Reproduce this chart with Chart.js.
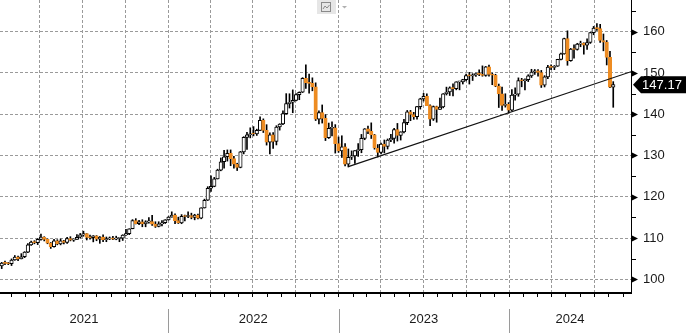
<!DOCTYPE html>
<html>
<head>
<meta charset="utf-8">
<script src="https://cdn.jsdelivr.net/npm/chart.js@4.4.1/dist/chart.umd.min.js"></script>
<style>
  html, body { margin: 0; padding: 0; background: #fff; }
  #wrap { width: 688px; height: 333px; }
</style>
</head>
<body>
<div id="wrap"><canvas id="chartKurs" width="688" height="333"></canvas></div>
<script>
// Weekly candles, one per week starting with the week ending 10 Jan 2021
const firstWeek = Date.UTC(2021, 0, 10);
const DAY = 86400000;

const open = [
  103.25,103.94,103.86,103.77,104.68,105.38,104.94,105.46,106.57,108.33,109.03,108.87,109.66,110.25,109.66,108.78,
  107.88,109.30,108.59,109.35,108.96,109.85,109.50,109.66,110.20,110.76,111.05,110.14,110.06,110.55,109.70,110.25,
  109.58,109.79,109.84,109.72,109.93,109.97,110.73,111.05,112.24,114.22,113.47,113.95,113.41,113.93,114.01,113.38,
  112.80,113.43,113.70,114.39,115.08,115.58,114.21,113.68,115.25,115.22,115.43,114.99,115.55,114.83,117.29,119.15,
  122.06,122.50,124.33,126.44,128.49,129.70,130.55,129.25,127.87,127.12,130.87,134.41,135.02,135.22,135.21,136.09,
  138.53,136.10,133.25,135.02,133.43,136.90,137.63,140.16,142.57,142.91,143.34,144.74,145.32,148.69,147.67,147.47,
  146.61,138.78,140.37,138.99,134.31,136.57,136.68,132.87,131.12,132.08,127.87,129.57,129.87,131.19,131.39,134.13,
  136.48,135.85,134.99,131.82,130.73,132.79,132.17,133.76,134.16,136.27,134.86,135.73,137.98,140.60,139.93,139.39,
  141.86,143.71,144.31,142.10,138.81,141.83,141.17,141.75,144.96,145.39,146.40,146.22,147.84,147.85,148.37,149.37,
  149.31,149.57,149.87,149.65,149.39,151.50,149.62,149.44,146.80,144.94,142.16,142.40,141.00,144.61,144.87,148.13,
  148.12,148.38,149.28,150.19,150.50,150.11,147.07,149.05,151.42,151.35,151.62,153.28,154.63,158.33,152.97,155.78,
  155.68,156.97,157.25,156.75,157.38,159.79,160.88,160.75,157.86,157.46,153.76,146.53
];
const high = [
  104.10,104.40,104.09,104.94,105.77,105.65,106.22,106.70,108.64,109.24,109.36,109.85,110.97,110.32,109.78,108.91,
  109.70,109.60,109.78,109.45,110.20,110.33,109.85,110.82,111.11,111.66,111.08,110.70,110.59,110.59,110.37,110.80,
  110.25,110.26,110.42,110.45,110.08,110.80,112.08,112.25,114.46,114.70,114.30,114.44,114.20,114.97,115.52,113.95,
  113.95,114.25,114.46,115.20,116.35,115.85,115.06,115.68,115.55,116.34,116.03,115.76,115.80,117.35,119.42,122.44,
  125.10,124.69,126.68,129.41,131.25,131.35,131.35,129.77,128.13,130.99,134.56,135.59,136.71,137.00,136.38,139.39,
  138.88,137.47,135.50,135.58,137.22,137.70,140.80,144.99,144.96,145.90,145.00,145.42,148.86,151.95,149.71,148.82,
  147.61,140.80,142.25,139.90,137.86,138.18,137.48,134.50,134.78,132.87,131.58,131.12,131.20,132.90,135.11,136.52,
  137.10,137.91,135.11,132.65,133.00,133.76,134.01,135.14,136.56,137.77,135.75,138.74,140.92,140.93,140.46,141.91,
  143.87,145.07,144.92,142.27,142.00,141.96,143.89,145.01,146.57,146.64,147.37,147.88,147.95,148.47,149.71,150.16,
  149.83,149.99,150.78,151.72,151.59,151.91,149.98,149.69,147.31,146.59,144.96,142.82,145.98,146.41,148.81,148.70,
  148.58,149.57,150.89,150.84,150.83,150.62,149.35,151.86,151.97,151.80,153.32,154.79,158.44,160.21,155.95,156.79,
  157.19,157.71,157.31,158.25,159.83,161.28,161.95,161.77,159.45,157.86,155.22,147.90
];
const low = [
  102.59,103.52,103.55,103.33,104.60,104.50,104.94,105.25,106.45,108.20,108.60,108.41,109.50,109.30,108.61,107.48,
  107.80,108.35,108.34,108.56,108.68,109.31,109.19,109.64,110.02,110.43,109.53,109.73,109.07,109.34,108.72,109.12,
  109.11,109.60,109.59,109.58,109.11,109.41,110.65,110.81,112.23,113.41,113.25,112.73,112.72,113.58,113.05,112.56,
  112.70,112.93,113.52,114.35,115.05,113.49,113.52,113.47,114.16,114.93,114.65,114.41,114.66,114.66,117.25,119.09,
  121.28,122.42,124.30,126.29,126.95,128.64,127.52,126.94,126.36,127.01,130.39,131.50,134.27,134.75,134.86,135.99,
  135.57,132.52,130.41,131.73,132.56,136.15,137.50,140.00,141.50,140.36,143.25,143.52,145.25,146.24,145.11,145.68,
  138.47,137.67,137.86,133.62,134.12,134.75,130.58,130.77,129.52,127.46,127.22,129.02,128.08,129.80,130.66,133.82,
  135.26,134.12,131.53,129.64,130.40,130.63,131.57,133.35,133.01,133.50,133.74,135.46,137.47,138.43,138.76,138.78,
  141.24,143.20,142.06,137.24,138.49,138.06,141.17,141.54,144.66,144.54,144.44,145.91,145.91,147.32,148.10,147.31,
  148.17,149.18,149.32,149.21,149.20,149.20,147.15,146.67,141.63,140.95,141.72,140.25,140.82,143.42,144.35,146.65,
  145.90,147.91,148.90,149.65,149.21,146.48,146.61,148.63,150.80,150.80,151.58,153.13,154.54,151.86,152.83,153.60,
  155.54,156.35,154.55,155.72,157.16,159.26,160.28,157.39,155.37,151.94,146.41,141.68
];
const close = [
  103.94,103.86,103.77,104.68,105.38,104.94,105.46,106.57,108.33,109.03,108.87,109.66,110.25,109.66,108.78,107.88,
  109.30,108.59,109.35,108.96,109.85,109.50,109.66,110.20,110.76,111.05,110.14,110.06,110.55,109.70,110.25,109.58,
  109.79,109.84,109.72,109.93,109.97,110.73,111.05,112.24,114.22,113.47,113.95,113.41,113.93,114.01,113.38,112.80,
  113.43,113.70,114.39,115.08,115.58,114.21,113.68,115.25,115.22,115.43,114.99,115.55,114.83,117.29,119.15,122.06,
  122.50,124.33,126.44,128.49,129.70,130.55,129.25,127.87,127.12,130.87,134.41,135.02,135.22,135.21,136.09,138.53,
  136.10,133.25,135.02,133.43,136.90,137.63,140.16,142.57,142.91,143.34,144.74,145.32,148.69,147.67,147.47,146.61,
  138.78,140.37,138.99,134.31,136.57,136.68,132.87,131.12,132.08,127.87,129.57,129.87,131.19,131.39,134.13,136.48,
  135.85,134.99,131.82,130.73,132.79,132.17,133.76,134.16,136.27,134.86,135.73,137.98,140.60,139.93,139.39,141.86,
  143.71,144.31,142.10,138.81,141.83,141.17,141.75,144.96,145.39,146.40,146.22,147.84,147.85,148.37,149.37,149.31,
  149.57,149.87,149.65,149.39,151.50,149.62,149.44,146.80,144.94,142.16,142.40,141.00,144.61,144.87,148.13,148.12,
  148.38,149.28,150.19,150.50,150.11,147.07,149.05,151.42,151.35,151.62,153.28,154.63,158.33,152.97,155.78,155.68,
  156.97,157.25,156.75,157.38,159.79,160.88,160.75,157.86,157.46,153.76,146.53,147.17
];

const years = [2021, 2022, 2023, 2024];
const yTicks = [100, 110, 120, 130, 140, 150, 160];
const yMinorTicks = [105, 115, 125, 135, 145, 155, 165];

// support line from the Jan 2023 low out to the right edge
const trendDates = [Date.UTC(2023, 0, 22), Date.UTC(2024, 8, 18)];
const trendValues = [127.3, 150.3];

const xMin = Date.UTC(2021, 0, 6, 8);
const xMax = Date.UTC(2024, 8, 18);
const ORANGE = '#ee8c22';
const FONT = '"Liberation Sans", Arial, sans-serif';

const dates = close.map((_, i) => firstWeek + i * 7 * DAY);
const isUp = i => close[i] >= open[i];

const monthStarts = [];
for (let y = 2021; y <= 2024; y++) {
  for (let m = 0; m < 12; m++) {
    const t = Date.UTC(y, m, 1);
    if (t > xMin && t < xMax) monthStarts.push(t);
  }
}

// axis decorations, year labels and last price tag
const extras = {
  id: 'extras',
  afterDraw(chart) {
    const { ctx, chartArea: a, scales: { x, y } } = chart;
    ctx.save();

    // right axis: arrows on the major ticks, short marks on the minor ones
    ctx.fillStyle = '#000';
    ctx.strokeStyle = '#000';
    ctx.lineWidth = 1;
    yTicks.forEach(v => {
      const py = Math.round(y.getPixelForValue(v)) + 0.5;
      ctx.beginPath();
      ctx.moveTo(a.right, py - 3.5);
      ctx.lineTo(a.right + 7, py);
      ctx.lineTo(a.right, py + 3.5);
      ctx.closePath();
      ctx.fill();
    });
    yMinorTicks.forEach(v => {
      const py = Math.round(y.getPixelForValue(v)) + 0.5;
      ctx.beginPath();
      ctx.moveTo(a.right, py);
      ctx.lineTo(a.right + 5, py);
      ctx.stroke();
    });

    // years along the bottom with separators
    ctx.font = '13px ' + FONT;
    ctx.textAlign = 'center';
    ctx.textBaseline = 'middle';
    years.forEach(yr => {
      const x0 = Math.max(a.left, x.getPixelForValue(Date.UTC(yr, 0, 1)));
      const x1 = Math.min(a.right, x.getPixelForValue(Date.UTC(yr + 1, 0, 1)));
      ctx.fillStyle = '#1a1a1a';
      ctx.fillText(String(yr), (x0 + x1) / 2, 319);
      if (yr > years[0]) {
        const sx = Math.round(x0) + 0.5;
        ctx.strokeStyle = '#9a9a9a';
        ctx.beginPath();
        ctx.moveTo(sx, 309);
        ctx.lineTo(sx, 333);
        ctx.stroke();
      }
    });

    // last price tag
    const last = close[close.length - 1];
    const py = y.getPixelForValue(last);
    ctx.fillStyle = '#000';
    ctx.beginPath();
    ctx.moveTo(a.right + 2, py);
    ctx.lineTo(a.right + 10, py - 8.5);
    ctx.lineTo(686, py - 8.5);
    ctx.lineTo(686, py + 8.5);
    ctx.lineTo(a.right + 10, py + 8.5);
    ctx.closePath();
    ctx.fill();
    ctx.fillStyle = '#fff';
    ctx.font = '13px ' + FONT;
    ctx.fillText(last.toFixed(2), 662, py + 0.5);

    // small chart-type button at the top
    ctx.fillStyle = '#e6e6e6';
    ctx.fillRect(317, 0, 19, 14);
    ctx.strokeStyle = '#8a8a8a';
    ctx.strokeRect(321.5, 2.5, 9, 9);
    ctx.beginPath();
    ctx.moveTo(323, 9); ctx.lineTo(325, 6); ctx.lineTo(327, 8); ctx.lineTo(329.5, 5);
    ctx.stroke();
    ctx.fillStyle = '#b0b0b0';
    ctx.beginPath();
    ctx.moveTo(342, 6); ctx.lineTo(347, 6); ctx.lineTo(344.5, 8.5);
    ctx.closePath();
    ctx.fill();

    ctx.restore();
  }
};

new Chart(document.getElementById('chartKurs'), {
  type: 'bar',
  data: {
    datasets: [
      {
        type: 'line',
        data: trendDates.map((d, i) => ({ x: d, y: trendValues[i] })),
        borderColor: '#111',
        borderWidth: 1.2,
        pointRadius: 0,
        order: 0,
      },
      {
        data: dates.map((d, i) => ({ x: d, y: [open[i], close[i]] })),
        backgroundColor: c => (isUp(c.dataIndex) ? '#fff' : ORANGE),
        borderColor: c => (isUp(c.dataIndex) ? '#000' : ORANGE),
        borderWidth: 1,
        borderSkipped: false,
        barThickness: 3.5,
        minBarLength: 1,
        grouped: false,
        order: 1,
      },
      {
        data: dates.map((d, i) => ({ x: d, y: [low[i], high[i]] })),
        backgroundColor: '#000',
        barThickness: 1,
        grouped: false,
        order: 2,
      },
    ],
  },
  options: {
    responsive: false,
    animation: false,
    layout: { padding: 0 },
    plugins: { legend: { display: false }, tooltip: { enabled: false } },
    scales: {
      x: {
        type: 'linear',
        min: xMin,
        max: xMax,
        offset: false,
        afterBuildTicks: s => { s.ticks = monthStarts.map(v => ({ value: v })); },
        afterFit: s => { s.height = 40; },
        ticks: { display: false },
        grid: {
          offset: false,
          color: c => (c.tick && new Date(c.tick.value).getUTCMonth() % 3 === 0 ? '#9a9a9a' : 'rgba(0,0,0,0)'),
          tickColor: '#000',
          tickLength: 4,
        },
        border: { color: '#000', width: 2, dash: [3, 2] },
      },
      y: {
        position: 'right',
        min: 96.68,
        max: 167.68,
        afterBuildTicks: s => { s.ticks = yTicks.map(v => ({ value: v })); },
        afterFit: s => { s.width = 57; s.paddingTop = 0; s.paddingBottom = 0; },
        ticks: { padding: 12, color: '#1a1a1a', font: { family: FONT, size: 13 } },
        grid: { color: '#9a9a9a', drawTicks: false },
        border: { color: '#000', width: 1, dash: [3, 2] },
      },
    },
  },
  plugins: [extras],
});
</script>
</body>
</html>
